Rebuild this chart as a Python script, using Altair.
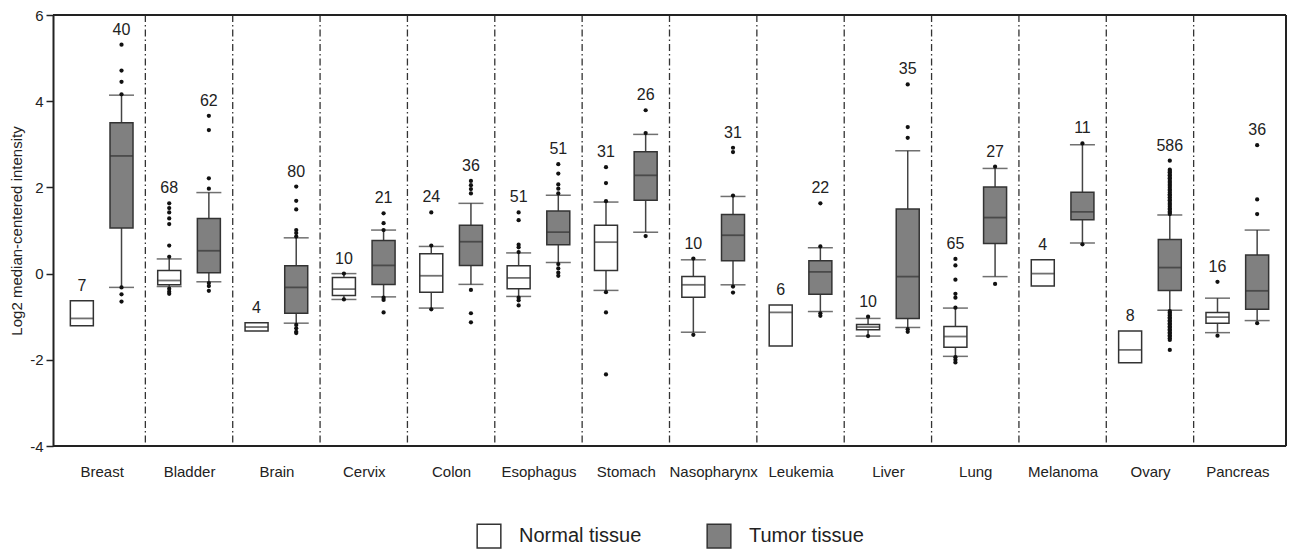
import altair as alt
import pandas as pd

categories = ["Breast", "Bladder", "Brain", "Cervix", "Colon", "Esophagus", "Stomach",
              "Nasopharynx", "Leukemia", "Liver", "Lung", "Melanoma", "Ovary", "Pancreas"]
groups = ["Normal tissue", "Tumor tissue"]

normal_n = [7, 68, 4, 10, 24, 51, 31, 10, 6, 10, 65, 4, 8, 16]
tumor_n = [40, 62, 80, 21, 36, 51, 26, 31, 22, 35, 27, 11, 586, 36]

normal_q1 = [-1.21, -0.26, -1.33, -0.51, -0.43, -0.35, 0.07, -0.55, -1.68, -1.30, -1.71, -0.29, -2.07, -1.15]
normal_med = [-1.04, -0.16, -1.24, -0.36, -0.05, -0.10, 0.73, -0.26, -0.90, -1.24, -1.46, 0.00, -1.77, -1.01]
normal_q3 = [-0.63, 0.07, -1.14, -0.09, 0.46, 0.18, 1.12, -0.07, -0.73, -1.18, -1.23, 0.32, -1.33, -0.90]
normal_lo = [None, -0.30, None, -0.60, -0.80, -0.53, -0.39, -1.36, None, -1.45, -1.92, None, None, -1.37]
normal_hi = [None, 0.34, None, 0.00, 0.63, 0.48, 1.66, 0.32, None, -1.04, -0.80, None, None, -0.57]

tumor_q1 = [1.06, 0.02, -0.92, -0.25, 0.19, 0.67, 1.70, 0.30, -0.48, -1.04, 0.70, 1.25, -0.39, -0.83]
tumor_med = [2.73, 0.53, -0.32, 0.19, 0.74, 0.96, 2.28, 0.89, 0.04, -0.07, 1.30, 1.43, 0.14, -0.40]
tumor_q3 = [3.50, 1.28, 0.18, 0.77, 1.12, 1.45, 2.83, 1.37, 0.30, 1.50, 2.01, 1.89, 0.79, 0.43]
tumor_lo = [-0.32, -0.19, -1.15, -0.54, -0.25, 0.26, 0.96, -0.26, -0.88, -1.25, -0.07, 0.71, -0.85, -1.09]
tumor_hi = [4.14, 1.88, 0.83, 1.01, 1.63, 1.82, 3.23, 1.79, 0.60, 2.85, 2.44, 2.99, 1.36, 1.01]

normal_out = [
    [],
    [1.63, 1.52, 1.42, 1.28, 1.15, 0.65, 0.39, -0.35, -0.42, -0.47],
    [],
    [0.00, -0.60],
    [1.42, 0.65, -0.83],
    [1.42, 1.24, 0.67, 0.61, 0.50, -0.56, -0.62, -0.74],
    [2.47, 2.10, 1.68, -0.43, -0.90, -2.34],
    [0.35, -1.42],
    [],
    [-1.00, -1.45],
    [0.34, 0.19, -0.14, -0.47, -0.56, -0.79, -1.94, -2.00, -2.06],
    [],
    [],
    [-0.19, -1.44],
]
tumor_out = [
    [5.31, 4.71, 4.45, 4.16, -0.32, -0.48, -0.65],
    [3.66, 3.33, 2.21, 1.97, -0.22, -0.29, -0.40],
    [2.02, 1.69, 1.49, 1.01, 0.94, 0.86, -1.19, -1.27, -1.35, -1.38],
    [1.40, 1.17, 1.01, -0.56, -0.61, -0.90],
    [2.15, 2.05, 1.96, 1.86, -0.38, -0.92, -1.13],
    [2.54, 2.32, 2.07, 1.97, 1.86, 0.22, 0.12, 0.02, -0.05],
    [3.79, 3.26, 0.87],
    [2.92, 2.82, 1.81, -0.30, -0.44],
    [1.63, 0.63, -0.92, -0.98],
    [4.39, 3.40, 3.15, -1.29, -1.35],
    [2.48, -0.24],
    [3.02, 0.68],
    [2.62, 2.41, 2.38, 2.35, 2.31, 2.28, 2.24, 2.21, 2.17, 2.13, 2.10, 2.06, 2.03, 1.99,
     1.95, 1.92, 1.88, 1.84, 1.81, 1.77, 1.73, 1.70, 1.66, 1.62, 1.59, 1.55, 1.51, 1.48,
     1.44, 1.41, 1.38,
     -0.87, -0.90, -0.94, -0.97, -1.01, -1.04, -1.08, -1.11, -1.15, -1.18, -1.22, -1.25,
     -1.29, -1.32, -1.36, -1.39, -1.43, -1.46, -1.50, -1.54, -1.77],
    [2.98, 1.72, 1.38, -1.15],
]

# ---- build tables ----
OFF = 0.227
box_rows, out_rows = [], []
for i, c in enumerate(categories):
    specs = [
        (groups[0], -OFF, normal_n[i], normal_q1[i], normal_med[i], normal_q3[i], normal_lo[i], normal_hi[i], normal_out[i]),
        (groups[1], OFF, tumor_n[i], tumor_q1[i], tumor_med[i], tumor_q3[i], tumor_lo[i], tumor_hi[i], tumor_out[i]),
    ]
    for g, off, n, q1, med, q3, lo, hi, outs in specs:
        pos = i + 0.5 + off
        top = max([q3] + ([hi] if hi is not None else []) + outs)
        box_rows.append(dict(cat=c, group=g, pos=pos, n=str(n), q1=q1, med=med, q3=q3,
                             lo=lo, hi=hi, top=top))
        for v in outs:
            out_rows.append(dict(cat=c, group=g, pos=pos, value=v))

boxes = pd.DataFrame(box_rows)
whisk = boxes.dropna(subset=["lo", "hi"])
outliers = pd.DataFrame(out_rows)
seps = pd.DataFrame({"x": list(range(1, len(categories)))})

W, H = 1233, 431
FONT = "Liberation Sans"
TXT = "#222222"
DARK = "#333333"

label_arr = "[" + ",".join("'" + c + "'" for c in categories) + "]"
xscale = alt.Scale(domain=[0, len(categories)], nice=False, zero=False)
yscale = alt.Scale(domain=[-4, 6], nice=False, zero=False)
xaxis = alt.Axis(values=[i + 0.5 for i in range(len(categories))],
                 labelExpr=label_arr + "[floor(datum.value)]",
                 ticks=False, domain=False, grid=False, title=None,
                 labelFontSize=15, labelPadding=18, labelFont=FONT, labelColor=TXT)
yaxis = alt.Axis(values=[-4, -2, 0, 2, 4, 6], labelExpr="'' + datum.value", grid=False,
                 tickSize=7, tickWidth=1.5, tickColor=TXT, domainColor=TXT, domainWidth=2,
                 labelFontSize=15, labelPadding=3, labelFont=FONT, labelColor=TXT,
                 title="Log2 median-centered intensity", titleFontSize=15,
                 titleFontWeight="normal", titleFont=FONT, titleColor=TXT, titlePadding=5)

base = alt.Chart(boxes)

sep_layer = alt.Chart(seps).mark_rule(color=DARK, strokeWidth=1.3, strokeDash=[7, 3, 1.5, 3]).encode(
    x=alt.X("x:Q", scale=xscale, axis=xaxis),
    y=alt.value(0), y2=alt.value(H),
)
top_frame = alt.Chart(seps).mark_rule(color=TXT, strokeWidth=2).encode(
    x=alt.value(0), x2=alt.value(W), y=alt.value(0))
right_frame = alt.Chart(seps).mark_rule(color=TXT, strokeWidth=2).encode(
    x=alt.value(W), y=alt.value(0), y2=alt.value(H))
bottom_frame = alt.Chart(seps).mark_rule(color=TXT, strokeWidth=2).encode(
    x=alt.value(0), x2=alt.value(W), y=alt.value(H))

upper_w = alt.Chart(whisk).mark_rule(color="#444444", strokeWidth=1.5).encode(
    x=alt.X("pos:Q", scale=xscale, axis=xaxis),
    y=alt.Y("q3:Q", scale=yscale, axis=yaxis), y2="hi:Q")
lower_w = alt.Chart(whisk).mark_rule(color="#444444", strokeWidth=1.5).encode(
    x=alt.X("pos:Q", scale=xscale, axis=xaxis),
    y=alt.Y("lo:Q", scale=yscale, axis=yaxis), y2="q1:Q")
cap_hi = alt.Chart(whisk).mark_tick(orient="horizontal", size=25, thickness=1.5, color=DARK).encode(
    x=alt.X("pos:Q", scale=xscale, axis=xaxis),
    y=alt.Y("hi:Q", scale=yscale, axis=yaxis))
cap_lo = alt.Chart(whisk).mark_tick(orient="horizontal", size=25, thickness=1.5, color=DARK).encode(
    x=alt.X("pos:Q", scale=xscale, axis=xaxis),
    y=alt.Y("lo:Q", scale=yscale, axis=yaxis))

box_layer = base.mark_bar(size=23, stroke=DARK, strokeWidth=1.5).encode(
    x=alt.X("pos:Q", scale=xscale, axis=xaxis),
    y=alt.Y("q1:Q", scale=yscale, axis=yaxis), y2="q3:Q",
    color=alt.Color("group:N",
                    scale=alt.Scale(domain=groups, range=["#ffffff", "#808080"]),
                    legend=alt.Legend(title=None, orient="none", legendX=423, legendY=508,
                                      direction="horizontal", symbolType="square",
                                      symbolSize=560, symbolStrokeColor=DARK,
                                      symbolStrokeWidth=1.5, labelFontSize=20,
                                      labelFont=FONT, labelColor=TXT, labelOffset=17,
                                      columnPadding=62, padding=0)),
)
med_layer = base.mark_tick(orient="horizontal", size=23, thickness=1.8, color=DARK).encode(
    x=alt.X("pos:Q", scale=xscale, axis=xaxis),
    y=alt.Y("med:Q", scale=yscale, axis=yaxis))

out_layer = alt.Chart(outliers).mark_circle(size=18, color="#111111", opacity=1).encode(
    x=alt.X("pos:Q", scale=xscale, axis=xaxis),
    y=alt.Y("value:Q", scale=yscale, axis=yaxis))

n_layer = base.mark_text(dy=-10, baseline="alphabetic", fontSize=16, font=FONT, color=TXT).encode(
    x=alt.X("pos:Q", scale=xscale, axis=xaxis),
    y=alt.Y("top:Q", scale=yscale, axis=yaxis),
    text="n:N")

chart = alt.layer(sep_layer, top_frame, right_frame, bottom_frame, upper_w, lower_w, cap_hi, cap_lo,
                  box_layer, med_layer, out_layer, n_layer).properties(
    width=W, height=H,
    autosize=alt.AutoSizeParams(type="none"),
    padding={"left": 53, "top": 15, "right": 4, "bottom": 104},
).configure_view(stroke=TXT, strokeWidth=2).configure(background="white")

chart.save("out.html", embed_options={"renderer": "svg", "actions": False})
